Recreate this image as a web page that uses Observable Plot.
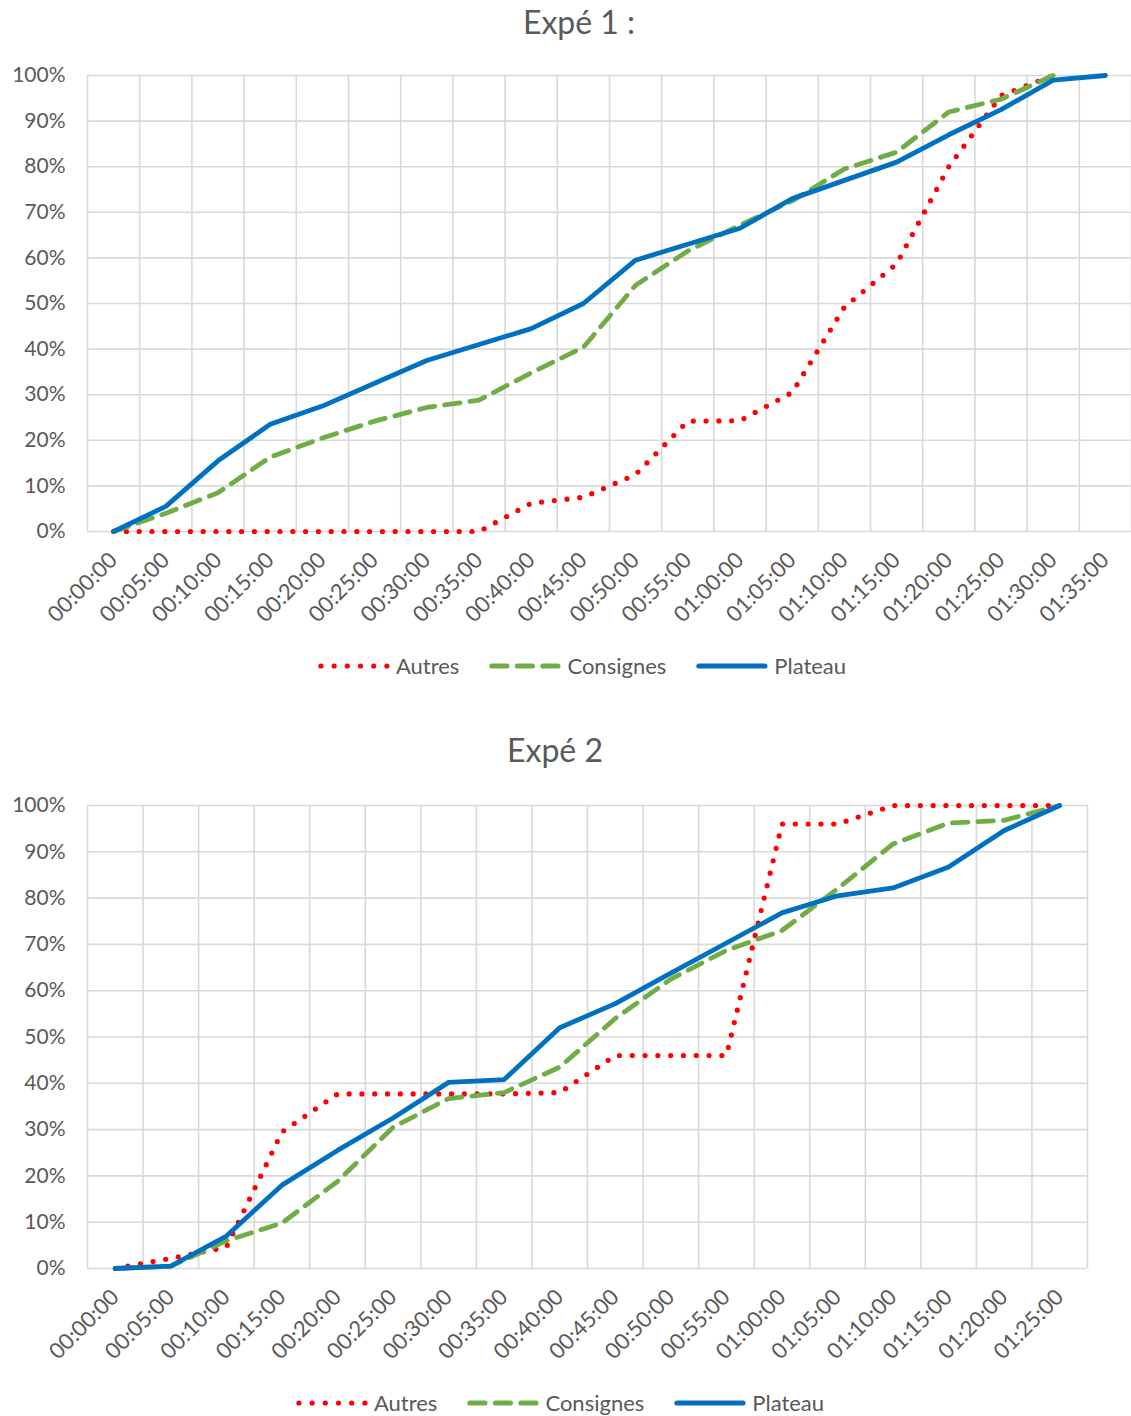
<!DOCTYPE html>
<html>
<head>
<meta charset="utf-8">
<script src="https://cdn.jsdelivr.net/npm/d3@7"></script>
<script src="https://cdn.jsdelivr.net/npm/@observablehq/plot@0.6"></script>
<style>
  body { margin: 0; background: #fff; font-family: Lato, "Open Sans", sans-serif; color: #595959; }
  #page { position: relative; width: 1131px; height: 1416px; overflow: hidden; }
  .chart { position: absolute; left: 0; }
  .title { position: absolute; font-size: 32px; line-height: 1; transform: translate(-50%, -50%); white-space: nowrap; }
  .legend { position: absolute; display: flex; align-items: center; font-size: 22px; line-height: 1; transform: translate(-50%, -50%); white-space: nowrap; }
  .legend .item { display: flex; align-items: center; margin: 0 15px; }
  .legend svg { margin-right: 6px; }
</style>
</head>
<body>
<div id="page"></div>
<script>
// Series names and their styles (red dotted, green dashed, blue solid)
const seriesNames = ["Autres", "Consignes", "Plateau"];
const seriesColors = ["#FF0000", "#70AD47", "#0070C0"];
const seriesDash = ["0,12.8", "15.5,10", null];
const seriesWidth = [5.2, 4.8, 4.8];

// Y axis tick labels (percent)
const yTickValues = [0, 10, 20, 30, 40, 50, 60, 70, 80, 90, 100];

// Expé 1 : elapsed time categories and cumulative percentages (null = no value)
const times1 = ["00:00:00", "00:05:00", "00:10:00", "00:15:00", "00:20:00", "00:25:00", "00:30:00",
  "00:35:00", "00:40:00", "00:45:00", "00:50:00", "00:55:00", "01:00:00", "01:05:00",
  "01:10:00", "01:15:00", "01:20:00", "01:25:00", "01:30:00", "01:35:00"];
const autres1    = [0, 0, 0, 0, 0, 0, 0, 0, 6.2, 7.5, 12.5, 24.2, 24.3, 30.5, 49.2, 58.7, 80, 95.6, 100, null];
const consignes1 = [0, 4, 8.5, 16.3, 20.5, 24.2, 27.2, 28.8, 34.8, 40.4, 54, 61.5, 67.2, 72.5, 79.5, 83.2, 92, 94.8, 100, null];
const plateau1   = [0, 5.5, 15.5, 23.5, 27.5, 32.5, 37.5, 41, 44.5, 50, 59.5, 63, 66.5, 73, 77, 81, 87, 92.5, 99, 100];

// Expé 2
const times2 = ["00:00:00", "00:05:00", "00:10:00", "00:15:00", "00:20:00", "00:25:00", "00:30:00",
  "00:35:00", "00:40:00", "00:45:00", "00:50:00", "00:55:00", "01:00:00", "01:05:00",
  "01:10:00", "01:15:00", "01:20:00", "01:25:00"];
const autres2    = [0, 2.2, 4.6, 29.5, 37.7, 37.7, 37.7, 37.7, 38, 46, 46, 46, 96, 96, 100, 100, 100, 100];
const consignes2 = [0, 0.5, 6, 9.8, 18.8, 30.5, 36.7, 38, 43.5, 54, 62.5, 68.7, 73, 82, 91.7, 96.2, 96.8, 100];
const plateau2   = [0, 0.5, 7, 18, 25.5, 32.5, 40.2, 40.8, 52, 57.2, 63.8, 70.3, 76.8, 80.5, 82.2, 86.7, 94.6, 100];

const toMinutes = s => { const [h, m, sec] = s.split(":").map(Number); return h * 60 + m + sec / 60; };

const page = document.getElementById("page");

function drawChart({title, titleX, titleY, times, values, top, marginBottom, marginRight, legendX, legendY}) {
  const minutes = times.map(toMinutes);
  const labelOf = new Map(minutes.map((m, i) => [m, times[i]]));
  const step = minutes[1] - minutes[0];
  // category boundaries (gridlines sit between category labels)
  const bounds = [minutes[0] - step / 2, ...minutes.map(m => m + step / 2)];

  const rows = seriesNames.map((name, k) =>
    times.map((t, i) => ({time: minutes[i], value: values[k][i] == null ? null : values[k][i] / 100, serie: name}))
      .filter(d => d.value != null));

  const lineMarks = rows.map((data, k) => Plot.line(data, {
    x: "time", y: "value",
    stroke: seriesColors[k], strokeWidth: seriesWidth[k],
    strokeDasharray: seriesDash[k] ?? undefined,
    strokeLinecap: "round", strokeLinejoin: "round"
  }));

  const chart = Plot.plot({
    width: 1131,
    height: 640,
    marginTop: 75,
    marginLeft: 87,
    marginRight,
    marginBottom,
    style: {fontFamily: "Lato, 'Open Sans', sans-serif", fontSize: "21px", color: "#595959", background: "transparent"},
    x: {type: "linear", domain: [bounds[0], bounds[bounds.length - 1]]},
    y: {domain: [0, 1]},
    marks: [
      Plot.gridY(yTickValues.map(v => v / 100), {stroke: "#D9D9D9", strokeOpacity: 1, strokeWidth: 1.6}),
      Plot.ruleX(bounds, {stroke: "#D9D9D9", strokeWidth: 1.6}),
      Plot.axisY(yTickValues.map(v => v / 100), {
        tickSize: 0, tickPadding: 22, tickFormat: d3.format(".0%"), label: null, fontSize: 21
      }),
      Plot.axisX(minutes, {
        tickSize: 0, tickPadding: 25, tickRotate: -45, tickFormat: m => labelOf.get(m), label: null, fontSize: 22
      }),
      ...lineMarks
    ]
  });
  chart.classList.add("chart");
  chart.style.top = top + "px";
  page.appendChild(chart);

  const t = document.createElement("div");
  t.className = "title";
  t.textContent = title;
  t.style.left = titleX + "px";
  t.style.top = titleY + "px";
  page.appendChild(t);

  const legend = document.createElement("div");
  legend.className = "legend";
  legend.style.left = legendX + "px";
  legend.style.top = legendY + "px";
  seriesNames.forEach((name, k) => {
    const item = document.createElement("div");
    item.className = "item";
    const dash = seriesDash[k] ? `stroke-dasharray="${k === 0 ? "0,13.2" : "15,10.5"}"` : "";
    item.innerHTML = `<svg width="72" height="10"><line x1="3" y1="5" x2="69" y2="5" stroke="${seriesColors[k]}" stroke-width="5.2" stroke-linecap="round" ${dash}/></svg><span>${name}</span>`;
    legend.appendChild(item);
  });
  page.appendChild(legend);
}

drawChart({
  title: "Expé 1 :", titleX: 579, titleY: 22,
  times: times1, values: [autres1, consignes1, plateau1],
  top: 0, marginBottom: 109, marginRight: 0,
  legendX: 582, legendY: 666
});

drawChart({
  title: "Expé 2", titleX: 555, titleY: 750,
  times: times2, values: [autres2, consignes2, plateau2],
  top: 730, marginBottom: 102, marginRight: 44,
  legendX: 560, legendY: 1403
});
</script>
</body>
</html>
